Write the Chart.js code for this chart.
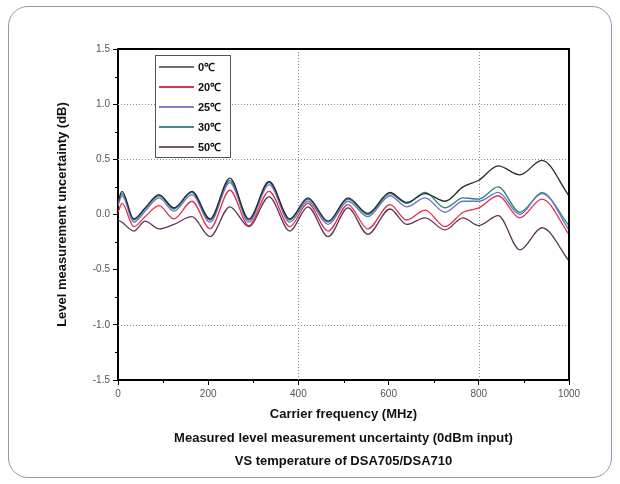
<!DOCTYPE html>
<html>
<head>
<meta charset="utf-8">
<script src="https://cdn.jsdelivr.net/npm/chart.js@4.4.0/dist/chart.umd.min.js"></script>
<style>
  body { margin: 0; background: #fff; }
  #wrap { position: relative; width: 620px; height: 484px; }
  #frame {
    position: absolute; left: 8px; top: 6px; width: 602px; height: 470px;
    border: 1px solid #8a9bb0; border-radius: 20px;
  }
  #myChart { position: absolute; left: 0; top: 0; }
</style>
</head>
<body>
<div id="wrap">
  <div id="frame"></div>
  <canvas id="myChart" width="620" height="484"></canvas>
</div>
<script>
// frequency points (MHz)
const freqs = [0, 9, 35, 60, 91, 124, 164, 204, 248, 290, 335, 381, 421, 466, 510, 554, 603, 640, 681, 725, 765, 800, 843, 891, 940, 1000];

// level measurement uncertainty (dB) per temperature
const t0  = [0.12, 0.21, -0.04, 0.06, 0.18, 0.06, 0.21, -0.04, 0.33, -0.04, 0.30, -0.04, 0.15, -0.06, 0.15, 0.01, 0.20, 0.11, 0.19, 0.12, 0.25, 0.31, 0.44, 0.36, 0.49, 0.17];
const t20 = [0.02, 0.10, -0.11, -0.02, 0.08, -0.04, 0.12, -0.13, 0.22, -0.10, 0.21, -0.11, 0.10, -0.15, 0.09, -0.13, 0.09, -0.05, 0.04, -0.11, 0.02, 0.06, 0.17, -0.03, 0.14, -0.18];
const t25 = [0.08, 0.17, -0.07, 0.03, 0.15, 0.03, 0.18, -0.07, 0.29, -0.07, 0.27, -0.07, 0.12, -0.09, 0.12, -0.02, 0.17, 0.07, 0.15, 0.02, 0.12, 0.12, 0.20, 0.00, 0.20, -0.14];
const t30 = [0.10, 0.19, -0.05, 0.05, 0.17, 0.05, 0.20, -0.05, 0.31, -0.05, 0.29, -0.05, 0.14, -0.07, 0.14, 0.00, 0.19, 0.10, 0.20, 0.06, 0.15, 0.14, 0.25, 0.02, 0.19, -0.10];
const t50 = [-0.05, -0.07, -0.15, -0.06, -0.13, -0.09, -0.02, -0.20, 0.07, -0.11, 0.16, -0.15, 0.07, -0.20, 0.06, -0.18, 0.05, -0.09, -0.03, -0.14, -0.03, -0.10, -0.01, -0.32, -0.12, -0.42];

const seriesNames = ['0\u2103', '20\u2103', '25\u2103', '30\u2103', '50\u2103'];
const seriesColors = ['#2b2b2b', '#e0304e', '#6f72c4', '#21857c', '#5e3458'];
const legendColors = ['#707070', '#e0304e', '#7d80c8', '#3e8f86', '#6e5a6a'];

const yTicks = [-1.5, -1.0, -0.5, 0, 0.5, 1.0, 1.5];
const gridY = [1.0, 0.5, -1.0];
const gridX = [400, 800];

const allSeries = [t0, t20, t25, t30, t50];

const datasets = allSeries.map((vals, i) => ({
  label: seriesNames[i],
  data: freqs.map((f, j) => ({ x: f, y: vals[j] })),
  borderColor: seriesColors[i],
  borderWidth: 1.3,
  pointRadius: 0,
  cubicInterpolationMode: 'monotone',
  fill: false
}));

const decorPlugin = {
  id: 'decor',
  beforeDatasetsDraw(chart) {
    const { ctx, chartArea: a, scales: { x, y } } = chart;
    ctx.save();
    ctx.strokeStyle = '#8c8c8c';
    ctx.lineWidth = 1;
    ctx.setLineDash([1, 2]);
    gridY.forEach(v => {
      const py = Math.round(y.getPixelForValue(v)) + 0.5;
      ctx.beginPath(); ctx.moveTo(a.left, py); ctx.lineTo(a.right, py); ctx.stroke();
    });
    gridX.forEach(v => {
      const px = Math.round(x.getPixelForValue(v)) + 0.5;
      ctx.beginPath(); ctx.moveTo(px, a.top); ctx.lineTo(px, a.bottom); ctx.stroke();
    });
    ctx.restore();
  },
  afterDraw(chart) {
    const { ctx, chartArea: a, scales: { x, y } } = chart;
    ctx.save();
    // frame top / right
    ctx.strokeStyle = '#000';
    ctx.lineWidth = 2;
    ctx.beginPath();
    ctx.moveTo(a.left, a.top); ctx.lineTo(a.right, a.top); ctx.lineTo(a.right, a.bottom);
    ctx.stroke();

    // minor ticks
    ctx.lineWidth = 1;
    for (let f = 100; f < 1000; f += 200) {
      const px = Math.round(x.getPixelForValue(f)) + 0.5;
      ctx.beginPath(); ctx.moveTo(px, a.bottom); ctx.lineTo(px, a.bottom + 3); ctx.stroke();
    }
    for (let v = -1.25; v < 1.5; v += 0.5) {
      const py = Math.round(y.getPixelForValue(v)) + 0.5;
      ctx.beginPath(); ctx.moveTo(a.left, py); ctx.lineTo(a.left - 3, py); ctx.stroke();
    }

    // legend box
    const lx = 155, ly = 55, lw = 75, lh = 102;
    ctx.fillStyle = '#fff';
    ctx.fillRect(lx, ly, lw, lh);
    ctx.strokeStyle = '#555';
    ctx.lineWidth = 1;
    ctx.strokeRect(lx + 0.5, ly + 0.5, lw, lh);
    ctx.font = 'bold 11px "Liberation Sans", Arial, sans-serif';
    ctx.textBaseline = 'middle';
    ctx.textAlign = 'left';
    chart.data.datasets.forEach((ds, i) => {
      const ry = ly + 12 + i * 20;
      ctx.strokeStyle = legendColors[i];
      ctx.lineWidth = 1.8;
      ctx.beginPath(); ctx.moveTo(lx + 4, ry); ctx.lineTo(lx + 39, ry); ctx.stroke();
      ctx.fillStyle = '#111';
      ctx.fillText(ds.label, lx + 43, ry + 1);
    });

    // axis titles and caption
    const cx = (a.left + a.right) / 2;
    ctx.fillStyle = '#111';
    ctx.font = 'bold 13px "Liberation Sans", Arial, sans-serif';
    ctx.textAlign = 'center';
    ctx.fillText('Carrier frequency (MHz)', cx, 414);
    ctx.fillText('Measured level measurement uncertainty (0dBm input)', cx, 438);
    ctx.fillText('VS temperature of DSA705/DSA710', cx, 461);

    ctx.translate(62, (a.top + a.bottom) / 2);
    ctx.rotate(-Math.PI / 2);
    ctx.fillText('Level measurement uncertainty (dB)', 0, 0);
    ctx.restore();
  }
};

new Chart(document.getElementById('myChart').getContext('2d'), {
  type: 'line',
  data: { datasets },
  options: {
    responsive: false,
    animation: false,
    layout: { padding: { left: 0, top: 49, right: 51, bottom: 0 } },
    plugins: { legend: { display: false }, title: { display: false }, tooltip: { enabled: false } },
    scales: {
      x: {
        type: 'linear',
        min: 0, max: 1000,
        afterFit: s => { s.height = 104; },
        ticks: { stepSize: 200, color: '#555', padding: 3, maxRotation: 0,
          callback: v => String(v),
          font: { family: '"Liberation Sans", Arial, sans-serif', size: 10 } },
        grid: { drawOnChartArea: false, drawTicks: true, tickLength: 5, tickColor: '#000', tickWidth: 1 },
        border: { display: true, color: '#000', width: 2 }
      },
      y: {
        type: 'linear',
        min: -1.5, max: 1.5,
        afterFit: s => { s.width = 118; },
        afterBuildTicks: s => { s.ticks = yTicks.map(v => ({ value: v })); },
        ticks: { color: '#555', padding: 3,
          callback: v => Number(v).toFixed(1),
          font: { family: '"Liberation Sans", Arial, sans-serif', size: 10 } },
        grid: { drawOnChartArea: false, drawTicks: true, tickLength: 5, tickColor: '#000', tickWidth: 1 },
        border: { display: true, color: '#000', width: 2 }
      }
    }
  },
  plugins: [decorPlugin]
});
</script>
</body>
</html>
